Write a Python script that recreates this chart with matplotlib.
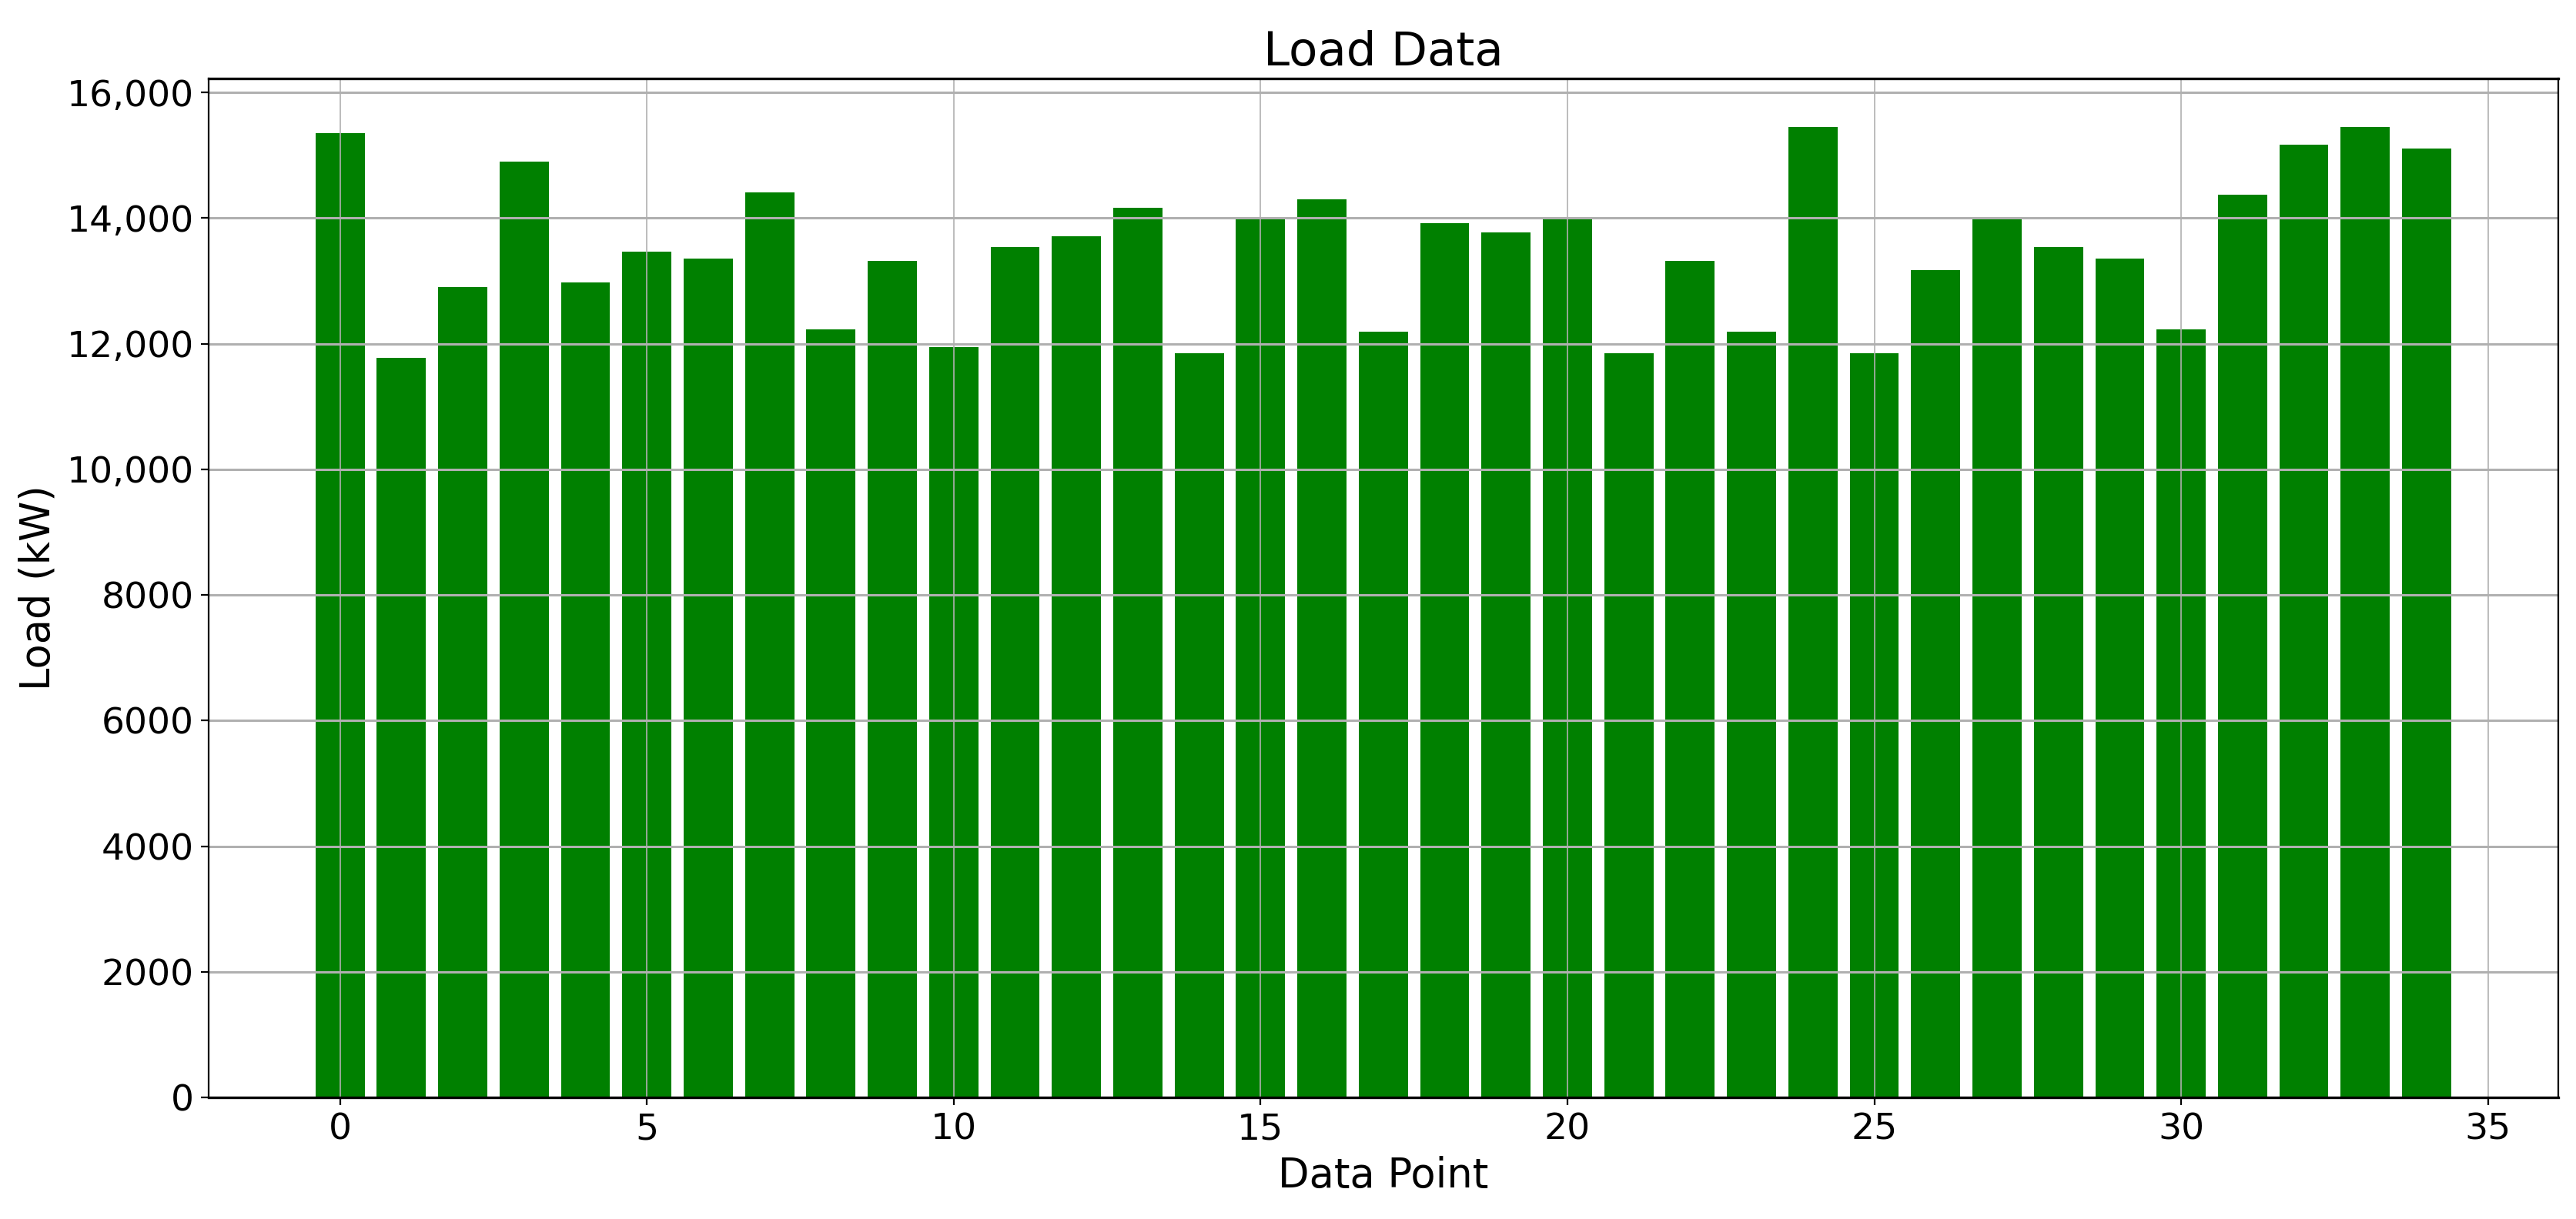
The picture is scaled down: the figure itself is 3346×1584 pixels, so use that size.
import numpy as np
import matplotlib
matplotlib.use('Agg')
import matplotlib.pyplot as plt
from matplotlib.ticker import FuncFormatter

# load values, one per data point
data_points = list(range(35))
load_kw = [15350, 11770, 12900, 14900, 12970, 13465, 13355, 14410, 12225, 13315,
           11945, 13535, 13710, 14170, 11850, 13995, 14300, 12190, 13915, 13775,
           14000, 11850, 13315, 12190, 15450, 11850, 13175, 14000, 13535, 13355,
           12225, 14375, 15175, 15450, 15105]


def load_fmt(v, pos):
    '''comma separator only for 5 digit numbers, like the original'''
    if abs(v) >= 10000:
        return "{:,.0f}".format(v)
    return "{:.0f}".format(v)


fig, ax = plt.subplots(figsize=(16.73, 7.92), dpi=200)
fig.subplots_adjust(left=0.081, right=0.993, top=0.9356, bottom=0.0997)

ax.bar(data_points, load_kw, color='green')

ax.set_title('Load Data', fontsize=22)
ax.set_xlabel('Data Point', fontsize=19)
ax.set_ylabel('Load (kW)', fontsize=19)
ax.tick_params(labelsize=17)
ax.yaxis.set_major_formatter(FuncFormatter(load_fmt))

# horizontal lines look heavier than vertical ones in the original
ax.yaxis.grid(True, linewidth=1.1)
ax.xaxis.grid(True, linewidth=0.6)
ax.spines['top'].set_linewidth(1.2)
ax.spines['bottom'].set_linewidth(1.2)

plt.savefig('out.png', dpi=200)
